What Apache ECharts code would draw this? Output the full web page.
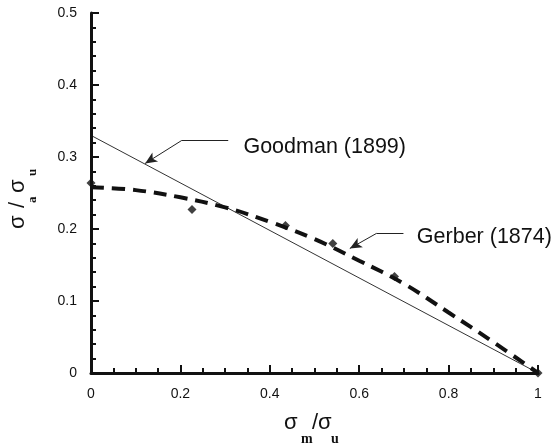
<!DOCTYPE html>
<html>
<head>
<meta charset="utf-8">
<script src="https://cdn.jsdelivr.net/npm/echarts@6/dist/echarts.min.js"></script>
<style>
html, body { margin: 0; padding: 0; background: #fff; }
#main { width: 554px; height: 448px; }
</style>
</head>
<body>
<div id="main"></div>
<script>
// Goodman straight line
const goodmanX = [0, 1];
const goodmanY = [0.33, 0];
// Gerber parabola
const gerberX = [0, 0.1, 0.2, 0.3, 0.4, 0.5, 0.6, 0.7, 0.8, 0.9, 1];
const gerberY = [0.258, 0.254, 0.244, 0.230, 0.210, 0.186, 0.156, 0.124, 0.084, 0.043, 0];
// test points (diamonds)
const testX = [0, 0.226, 0.435, 0.541, 0.679, 1];
const testY = [0.264, 0.227, 0.205, 0.180, 0.134, 0];

// annotations: text anchor, elbow of the leader, arrow tip
const goodmanNote = { text: 'Goodman (1899)', at: [0.341, 0.314], from: [0.307, 0.323], elbow: [0.203, 0.323], tip: [0.121, 0.291] };
const gerberNote = { text: 'Gerber (1874)', at: [0.729, 0.189], from: [0.699, 0.194], elbow: [0.639, 0.194], tip: [0.579, 0.173] };

const zip = (xs, ys) => xs.map((x, i) => [x, ys[i]]);

let chartDom = document.getElementById('main');
let myChart = echarts.init(chartDom);

const font = "'Liberation Sans', Arial, sans-serif";
const serif = "'Liberation Serif', 'Times New Roman', serif";
const ink = '#111';

function noteLines(n) {
    return [
        [{ coord: n.from, symbol: 'none' }, { coord: n.elbow, symbol: 'none' }],
        [{ coord: n.elbow, symbol: 'none' }, { coord: n.tip, symbol: 'arrow' }]
    ];
}

function mainAxis(min, max, interval) {
    return {
        type: 'value', min: min, max: max, interval: interval,
        axisLine: { show: true, lineStyle: { color: ink, width: 3 } },
        axisTick: { show: true, inside: true, length: 8, lineStyle: { color: ink, width: 2 } },
        splitLine: { show: false },
        axisLabel: { color: ink, fontFamily: font, fontSize: 14, margin: 14 },
        z: 5
    };
}

// second axis on the same side, only for the short inside ticks
function minorAxis(min, max, interval, pos) {
    return {
        type: 'value', min: min, max: max, interval: interval, position: pos,
        axisLine: { show: false },
        axisTick: { show: true, inside: true, length: 5, lineStyle: { color: ink, width: 2 } },
        splitLine: { show: false },
        axisLabel: { show: false }
    };
}

let option = {
    animation: false,
    backgroundColor: '#fff',
    grid: { left: 91, right: 16, top: 13, bottom: 75 },
    xAxis: [mainAxis(0, 1, 0.2), minorAxis(0, 1, 0.05, 'bottom')],
    yAxis: [mainAxis(0, 0.5, 0.1), minorAxis(0, 0.5, 0.02, 'left')],
    series: [
        {
            name: 'Goodman',
            type: 'line',
            data: zip(goodmanX, goodmanY),
            showSymbol: false,
            lineStyle: { color: '#333', width: 1 },
            markLine: {
                silent: true,
                symbolSize: [8, 12],
                label: { show: false },
                lineStyle: { color: '#222', width: 1, type: 'solid' },
                data: noteLines(goodmanNote).concat(noteLines(gerberNote))
            },
            markPoint: {
                silent: true,
                symbol: 'circle',
                symbolSize: 0,
                label: {
                    show: true, position: 'right', distance: 0,
                    color: ink, fontFamily: font, fontSize: 21.5,
                    formatter: p => p.name
                },
                data: [
                    { name: goodmanNote.text, coord: goodmanNote.at },
                    { name: gerberNote.text, coord: gerberNote.at }
                ]
            },
            z: 2
        },
        {
            name: 'Gerber',
            type: 'line',
            data: zip(gerberX, gerberY),
            smooth: 0.4,
            showSymbol: false,
            lineStyle: { color: ink, width: 4, type: [13, 8], cap: 'butt' },
            z: 3
        },
        {
            name: 'Test',
            type: 'scatter',
            data: zip(testX, testY),
            symbol: 'diamond',
            symbolSize: 9,
            itemStyle: { color: ink },
            z: 4
        }
    ],
    graphic: [
        // x axis title: sigma_m / sigma_u
        {
            type: 'group', left: 284, top: 412,
            children: [
                { type: 'text', x: 0, y: 0, style: { text: 'σ', font: '22px ' + font, fill: ink } },
                { type: 'text', x: 17, y: 20, style: { text: 'm', font: 'bold 14px ' + serif, fill: ink } },
                { type: 'text', x: 28, y: 0, style: { text: '/σ', font: '22px ' + font, fill: ink } },
                { type: 'text', x: 47, y: 20, style: { text: 'u', font: 'bold 14px ' + serif, fill: ink } }
            ]
        },
        // y axis title: sigma_a / sigma_u (rotated)
        {
            type: 'group', x: 7, y: 229, rotation: Math.PI / 2,
            children: [
                { type: 'text', x: 0, y: 0, style: { text: 'σ', font: '22px ' + font, fill: ink } },
                { type: 'text', x: 26, y: 19, style: { text: 'a', font: 'bold 13px ' + serif, fill: ink } },
                { type: 'text', x: 21, y: 0, style: { text: '/', font: '22px ' + font, fill: ink } },
                { type: 'text', x: 36, y: 0, style: { text: 'σ', font: '22px ' + font, fill: ink } },
                { type: 'text', x: 53, y: 19, style: { text: 'u', font: 'bold 13px ' + serif, fill: ink } }
            ]
        }
    ]
};

option && myChart.setOption(option);
</script>
</body>
</html>
